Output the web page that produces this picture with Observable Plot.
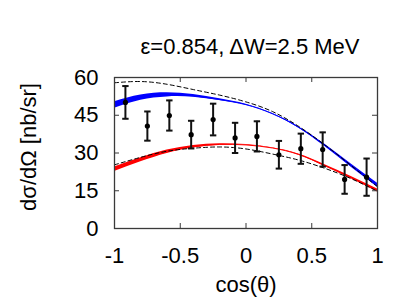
<!DOCTYPE html>
<html>
<head>
<meta charset="utf-8">
<script src="https://cdn.jsdelivr.net/npm/d3@7"></script>
<script src="https://cdn.jsdelivr.net/npm/@observablehq/plot@0.6"></script>
<style>
  html, body { margin: 0; padding: 0; background: #fff; }
  #chart svg { display: block; }
</style>
</head>
<body>
<div id="chart"></div>
<script>
// ---- data ----
const titleText = "ε=0.854, ΔW=2.5 MeV";
const xLabel = "cos(θ)";
const yLabel = "dσ/dΩ [nb/sr]";

const xTicks = [-1, -0.5, 0, 0.5, 1];
const yTicks = [0, 15, 30, 45, 60];

// measured points
const ptX   = [-0.917, -0.75, -0.583, -0.417, -0.25, -0.083, 0.083, 0.25, 0.417, 0.583, 0.75, 0.917];
const ptY   = [50.1, 40.7, 44.9, 37.3, 43.3, 36.0, 36.6, 29.3, 31.7, 31.4, 19.5, 20.4];
const ptErr = [6.5, 5.8, 6.0, 5.5, 6.3, 6.0, 6.0, 5.5, 6.0, 6.8, 5.7, 7.4];

// model curves sampled across cos(θ)
const curveX     = [-1, -0.8, -0.6, -0.4, -0.2, 0, 0.2, 0.4, 0.6, 0.8, 1];
const blueMid    = [49.1, 52.0, 53.1, 52.7, 51.2, 49.2, 45.6, 40.2, 33.0, 25.0, 17.2];
const blueHalf   = [1.3, 1.05, 0.8, 0.55, 0.35, 0.2, 0.15, 0.25, 0.45, 0.65, 0.8];
const redMid     = [23.5, 27.3, 30.5, 32.5, 33.4, 33.2, 32.0, 29.4, 25.0, 20.2, 15.1];
const redHalf    = [0.9, 0.8, 0.65, 0.5, 0.3, 0.15, 0.1, 0.2, 0.35, 0.45, 0.55];
const dashUpper  = [57.9, 58.4, 57.3, 55.2, 53.0, 50.3, 46.5, 40.6, 33.2, 25.0, 16.6];
const dashLower  = [25.3, 28.3, 30.7, 31.9, 32.4, 31.6, 29.6, 27.2, 23.9, 19.8, 14.8];

// ---- build tables ----
const points = ptX.map((x, i) => ({x, y: ptY[i], lo: ptY[i] - ptErr[i], hi: ptY[i] + ptErr[i]}));
const curves = curveX.map((x, i) => ({
  x,
  b1: blueMid[i] - blueHalf[i], b2: blueMid[i] + blueHalf[i], b: blueMid[i],
  r1: redMid[i] - redHalf[i], r2: redMid[i] + redHalf[i], r: redMid[i],
  du: dashUpper[i], dl: dashLower[i]
}));

const W = 420, H = 305;
const mL = 114, mR = 43, mT = 77, mB = 77;
const fw = W - mL - mR, fh = H - mT - mB;
const tickLen = 5;
const innerX = xTicks.filter(t => t > xTicks[0] && t < xTicks[xTicks.length - 1]);
const innerY = yTicks.filter(t => t > yTicks[0] && t < yTicks[yTicks.length - 1]);
const borderColor = "#3a3a3a";

const capSymbol = {
  draw(context, size) {
    const w = 3.2;
    context.moveTo(-w, 0);
    context.lineTo(w, 0);
  }
};

const font = "Liberation Sans, Arial, Helvetica, sans-serif";

const chart = Plot.plot({
  width: W,
  height: H,
  marginLeft: mL,
  marginRight: mR,
  marginTop: mT,
  marginBottom: mB,
  style: {fontFamily: font, fontSize: "22px", color: "#000", background: "#fff"},
  x: {domain: [-1, 1]},
  y: {domain: [0, 60]},
  marks: [
    // model bands
    Plot.areaY(curves, {x: "x", y1: "b1", y2: "b2", fill: "#0000ff", curve: "natural"}),
    Plot.lineY(curves, {x: "x", y: "b", stroke: "#0000ff", strokeWidth: 1, curve: "natural"}),
    Plot.areaY(curves, {x: "x", y1: "r1", y2: "r2", fill: "#ff0000", curve: "natural"}),
    Plot.lineY(curves, {x: "x", y: "r", stroke: "#ff0000", strokeWidth: 1, curve: "natural"}),
    // dashed curves
    Plot.lineY(curves, {x: "x", y: "du", stroke: "#000", strokeWidth: 1, strokeDasharray: "4,3", curve: "natural"}),
    Plot.lineY(curves, {x: "x", y: "dl", stroke: "#000", strokeWidth: 1, strokeDasharray: "4,3", curve: "natural"}),
    // error bars
    Plot.ruleX(points, {x: "x", y1: "lo", y2: "hi", stroke: "#111", strokeWidth: 2}),
    Plot.dot(points, {x: "x", y: "lo", symbol: capSymbol, r: 3, fill: "none", stroke: "#111", strokeWidth: 2}),
    Plot.dot(points, {x: "x", y: "hi", symbol: capSymbol, r: 3, fill: "none", stroke: "#111", strokeWidth: 2}),
    Plot.dot(points, {x: "x", y: "y", r: 2.6, fill: "#000", stroke: "none"}),
    // inward ticks on all sides
    Plot.ruleX(innerX, {x: d => d, insetTop: fh - tickLen, stroke: borderColor}),
    Plot.ruleX(innerX, {x: d => d, insetBottom: fh - tickLen, stroke: borderColor}),
    Plot.ruleY(innerY, {y: d => d, insetRight: fw - tickLen, stroke: borderColor}),
    Plot.ruleY(innerY, {y: d => d, insetLeft: fw - tickLen, stroke: borderColor}),
    Plot.frame({stroke: borderColor, strokeWidth: 1.3}),
    // axes labels
    Plot.axisX({ticks: xTicks, tickFormat: d => String(d), tickSize: 0, tickPadding: 19, fontSize: 22, label: null}),
    Plot.axisY({ticks: yTicks, tickFormat: d => String(d), tickSize: 0, tickPadding: 16, fontSize: 22, label: null}),
    Plot.text([xLabel], {frameAnchor: "bottom", dy: 63, fontSize: 22, fill: "#000"}),
    Plot.text([yLabel], {frameAnchor: "left", textAnchor: "middle", lineAnchor: "middle", rotate: -90, dx: -86, dy: -6, fontSize: 22, fill: "#000"}),
    Plot.text([titleText], {frameAnchor: "top", dy: -39, dx: 4, fontSize: 22, fill: "#000"})
  ]
});

document.getElementById("chart").appendChild(chart);
</script>
</body>
</html>
